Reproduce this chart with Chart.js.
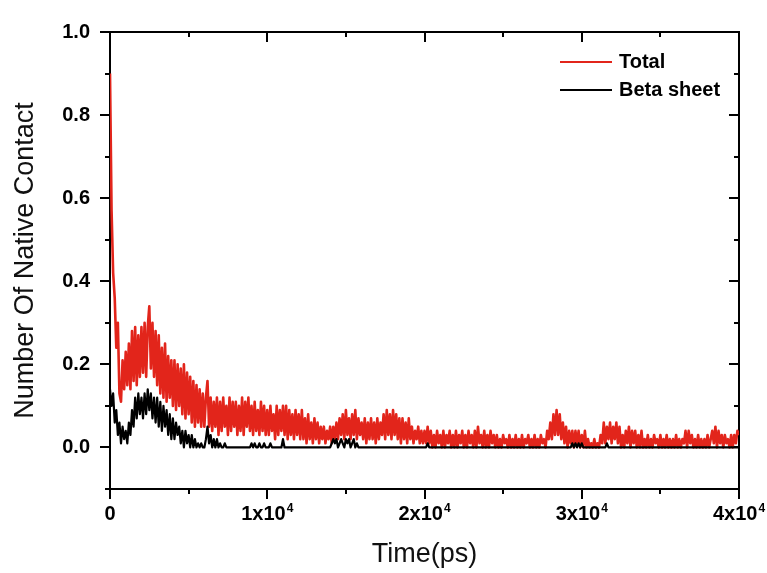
<!DOCTYPE html>
<html>
<head>
<meta charset="utf-8">
<script src="https://cdn.jsdelivr.net/npm/chart.js@4"></script>
<style>
  html, body { margin: 0; padding: 0; background: #fff; }
  canvas { display: block; }
</style>
</head>
<body>
<canvas id="contactChart" width="767" height="573"></canvas>
<script>
// sample spacing of the trajectory (ps)
const STEP = 100;

// Total native contacts, one value per 100 ps
const totalValues = [
  0.90, 0.57, 0.42, 0.36, 0.24, 0.30, 0.13, 0.11, 0.21, 0.14, 0.23, 0.15, 0.25, 0.14, 0.28, 0.16, 0.29, 0.15, 0.27, 0.17, // 0-1900
  0.29, 0.18, 0.30, 0.17, 0.29, 0.34, 0.19, 0.30, 0.17, 0.28, 0.15, 0.27, 0.13, 0.24, 0.12, 0.25, 0.11, 0.22, 0.12, 0.21, // 2000-3900
  0.10, 0.21, 0.09, 0.20, 0.10, 0.19, 0.08, 0.20, 0.07, 0.18, 0.08, 0.17, 0.06, 0.16, 0.05, 0.15, 0.06, 0.14, 0.05, 0.13, // 4000
  0.05, 0.12, 0.16, 0.05, 0.12, 0.04, 0.11, 0.05, 0.12, 0.03, 0.11, 0.04, 0.12, 0.05, 0.10, 0.03, 0.12, 0.04, 0.11, 0.05, // 6000
  0.11, 0.03, 0.10, 0.04, 0.12, 0.03, 0.11, 0.05, 0.12, 0.04, 0.10, 0.03, 0.11, 0.04, 0.09, 0.03, 0.11, 0.04, 0.10, 0.03, // 8000
  0.09, 0.03, 0.10, 0.04, 0.08, 0.02, 0.10, 0.03, 0.09, 0.04, 0.10, 0.03, 0.10, 0.02, 0.09, 0.03, 0.08, 0.02, 0.09, 0.03, // 10000
  0.08, 0.02, 0.09, 0.02, 0.07, 0.01, 0.08, 0.02, 0.06, 0.01, 0.07, 0.02, 0.06, 0.01, 0.05, 0.02, 0.05, 0.01, 0.04, 0.02, // 12000
  0.05, 0.01, 0.05, 0.02, 0.06, 0.02, 0.07, 0.03, 0.08, 0.02, 0.09, 0.03, 0.07, 0.02, 0.08, 0.03, 0.09, 0.02, 0.07, 0.03, // 14000
  0.06, 0.02, 0.07, 0.01, 0.06, 0.02, 0.07, 0.02, 0.06, 0.01, 0.07, 0.02, 0.06, 0.03, 0.08, 0.02, 0.09, 0.03, 0.08, 0.02, // 16000
  0.09, 0.03, 0.08, 0.02, 0.07, 0.01, 0.07, 0.02, 0.06, 0.01, 0.07, 0.02, 0.05, 0.01, 0.04, 0.02, 0.05, 0.01, 0.04, 0.01, // 18000
  0.04, 0.01, 0.05, 0.01, 0.04, 0.00, 0.03, 0.00, 0.04, 0.01, 0.03, 0.00, 0.04, 0.00, 0.03, 0.01, 0.04, 0.00, 0.03, 0.00, // 20000
  0.04, 0.00, 0.03, 0.01, 0.04, 0.00, 0.03, 0.00, 0.04, 0.01, 0.03, 0.00, 0.04, 0.00, 0.05, 0.01, 0.03, 0.00, 0.04, 0.00, // 22000
  0.03, 0.00, 0.04, 0.01, 0.03, 0.00, 0.03, 0.00, 0.02, 0.00, 0.03, 0.01, 0.02, 0.00, 0.03, 0.00, 0.02, 0.00, 0.03, 0.00, // 24000
  0.02, 0.00, 0.03, 0.00, 0.02, 0.01, 0.03, 0.00, 0.02, 0.00, 0.03, 0.00, 0.02, 0.00, 0.03, 0.01, 0.02, 0.00, 0.04, 0.02, // 26000
  0.06, 0.02, 0.08, 0.03, 0.09, 0.03, 0.08, 0.02, 0.06, 0.01, 0.05, 0.00, 0.04, 0.01, 0.04, 0.00, 0.04, 0.01, 0.04, 0.00, // 28000
  0.03, 0.00, 0.04, 0.00, 0.02, 0.00, 0.01, 0.00, 0.02, 0.00, 0.01, 0.00, 0.03, 0.01, 0.06, 0.01, 0.05, 0.02, 0.06, 0.01, // 30000
  0.05, 0.02, 0.06, 0.01, 0.05, 0.00, 0.03, 0.00, 0.04, 0.01, 0.05, 0.00, 0.04, 0.01, 0.04, 0.00, 0.03, 0.00, 0.04, 0.00, // 32000
  0.02, 0.00, 0.03, 0.00, 0.02, 0.00, 0.03, 0.01, 0.02, 0.00, 0.03, 0.00, 0.02, 0.00, 0.03, 0.00, 0.02, 0.00, 0.02, 0.00, // 34000
  0.03, 0.00, 0.02, 0.00, 0.02, 0.01, 0.04, 0.00, 0.04, 0.01, 0.03, 0.00, 0.02, 0.00, 0.03, 0.00, 0.02, 0.00, 0.02, 0.00, // 36000
  0.03, 0.00, 0.02, 0.04, 0.01, 0.05, 0.00, 0.04, 0.01, 0.03, 0.00, 0.03, 0.01, 0.02, 0.00, 0.03, 0.00, 0.03, 0.01, 0.04, // 38000
  0.03                                                                                                                   // 40000
];

// Beta sheet native contacts, same sampling
const betaValues = [
  0.14, 0.10, 0.13, 0.06, 0.09, 0.03, 0.06, 0.01, 0.05, 0.02, 0.04, 0.01, 0.06, 0.03, 0.09, 0.05, 0.12, 0.07, 0.13, 0.08, // 0-1900
  0.12, 0.07, 0.13, 0.08, 0.14, 0.09, 0.13, 0.07, 0.12, 0.06, 0.12, 0.05, 0.11, 0.04, 0.10, 0.05, 0.09, 0.03, 0.08, 0.02, // 2000
  0.07, 0.02, 0.06, 0.03, 0.05, 0.01, 0.04, 0.00, 0.04, 0.01, 0.03, 0.00, 0.03, 0.00, 0.02, 0.00, 0.01, 0.00, 0.01, 0.00, // 4000
  0.00, 0.02, 0.05, 0.01, 0.03, 0.00, 0.02, 0.00, 0.02, 0.00, 0.01, 0.00, 0.00, 0.01, 0.00, 0.00, 0.00, 0.00, 0.00, 0.00, // 6000
  0.00, 0.00, 0.00, 0.00, 0.00, 0.00, 0.00, 0.00, 0.00, 0.00, 0.01, 0.00, 0.01, 0.00, 0.00, 0.01, 0.00, 0.00, 0.01, 0.00, // 8000
  0.00, 0.00, 0.01, 0.00, 0.00, 0.00, 0.00, 0.00, 0.00, 0.00, 0.02, 0.00, 0.00, 0.00, 0.00, 0.00, 0.00, 0.00, 0.00, 0.00, // 10000
  0.00, 0.00, 0.00, 0.00, 0.00, 0.00, 0.00, 0.00, 0.00, 0.00, 0.00, 0.00, 0.00, 0.00, 0.00, 0.00, 0.00, 0.00, 0.00, 0.00, // 12000
  0.00, 0.01, 0.02, 0.01, 0.02, 0.00, 0.01, 0.02, 0.01, 0.00, 0.02, 0.01, 0.02, 0.00, 0.01, 0.02, 0.00, 0.01, 0.00, 0.00, // 14000
  0.00, 0.00, 0.00, 0.00, 0.00, 0.00, 0.00, 0.00, 0.00, 0.00, 0.00, 0.00, 0.00, 0.00, 0.00, 0.00, 0.00, 0.00, 0.00, 0.00, // 16000
  0.00, 0.00, 0.00, 0.00, 0.00, 0.00, 0.00, 0.00, 0.00, 0.00, 0.00, 0.00, 0.00, 0.00, 0.00, 0.00, 0.00, 0.00, 0.00, 0.00, // 18000
  0.00, 0.00, 0.01, 0.00, 0.00, 0.00, 0.00, 0.00, 0.00, 0.00, 0.00, 0.00, 0.00, 0.00, 0.00, 0.00, 0.00, 0.00, 0.00, 0.00, // 20000
  0.00, 0.00, 0.00, 0.00, 0.00, 0.00, 0.00, 0.00, 0.00, 0.00, 0.00, 0.00, 0.00, 0.00, 0.00, 0.00, 0.00, 0.00, 0.00, 0.00, // 22000
  0.00, 0.00, 0.00, 0.00, 0.00, 0.00, 0.00, 0.00, 0.00, 0.00, 0.00, 0.00, 0.00, 0.00, 0.00, 0.00, 0.00, 0.00, 0.00, 0.00, // 24000
  0.00, 0.00, 0.00, 0.00, 0.00, 0.00, 0.00, 0.00, 0.00, 0.00, 0.00, 0.00, 0.00, 0.00, 0.00, 0.00, 0.00, 0.00, 0.00, 0.00, // 26000
  0.00, 0.00, 0.00, 0.00, 0.00, 0.00, 0.00, 0.00, 0.00, 0.00, 0.00, 0.00, 0.00, 0.00, 0.01, 0.00, 0.01, 0.00, 0.01, 0.00, // 28000
  0.01, 0.00, 0.00, 0.00, 0.00, 0.00, 0.00, 0.00, 0.00, 0.00, 0.00, 0.00, 0.00, 0.00, 0.00, 0.00, 0.01, 0.00, 0.00, 0.00, // 30000
  0.00, 0.00, 0.00, 0.00, 0.00, 0.00, 0.00, 0.00, 0.00, 0.00, 0.00, 0.00, 0.00, 0.00, 0.00, 0.00, 0.00, 0.00, 0.00, 0.00, // 32000
  0.00, 0.00, 0.00, 0.00, 0.00, 0.00, 0.00, 0.00, 0.00, 0.00, 0.00, 0.00, 0.00, 0.00, 0.00, 0.00, 0.00, 0.00, 0.00, 0.00, // 34000
  0.00, 0.00, 0.00, 0.00, 0.00, 0.00, 0.00, 0.00, 0.00, 0.00, 0.00, 0.00, 0.00, 0.00, 0.00, 0.00, 0.00, 0.00, 0.00, 0.00, // 36000
  0.00, 0.00, 0.00, 0.00, 0.00, 0.00, 0.00, 0.00, 0.00, 0.00, 0.00, 0.00, 0.00, 0.00, 0.00, 0.00, 0.00, 0.00, 0.00, 0.00, // 38000
  0.00                                                                                                                   // 40000
];

const seriesNames = ['Total', 'Beta sheet'];
const seriesColors = ['#e2251b', '#000000'];

// axis ranges / tick steps
const xRange = [0, 40000];
const yRange = [-0.1, 1.0];
const xTickStep = 5000;
const yTickStep = 0.1;

const times = totalValues.map((_, i) => i * STEP);
const toPoints = vals => vals.map((v, i) => ({ x: times[i], y: v }));

const TICK_FONT = 'bold 20px "Liberation Sans", Arial, sans-serif';
const SUP_FONT = 'bold 12px "Liberation Sans", Arial, sans-serif';

// box frame + in/out tick marks, drawn under the data like Origin does
const framePlugin = {
  id: 'frame',
  beforeDatasetsDraw(chart) {
    const { ctx, chartArea: a, scales: { x, y } } = chart;
    ctx.save();
    ctx.strokeStyle = '#000';
    ctx.lineWidth = 2;
    ctx.strokeRect(a.left, a.top, a.right - a.left, a.bottom - a.top);

    ctx.beginPath();
    y.ticks.forEach(t => {
      const py = Math.round(y.getPixelForValue(t.value));
      const major = Math.round(t.value * 10) % 2 === 0;
      const len = major ? 10 : 5;
      ctx.moveTo(a.left - len, py); ctx.lineTo(a.left, py);
      ctx.moveTo(a.right - len, py); ctx.lineTo(a.right, py);
    });
    x.ticks.forEach(t => {
      const px = Math.round(x.getPixelForValue(t.value));
      const major = t.value % 10000 === 0;
      const len = major ? 10 : 5;
      ctx.moveTo(px, a.bottom); ctx.lineTo(px, a.bottom + len);
      ctx.moveTo(px, a.top); ctx.lineTo(px, a.top + len);
    });
    ctx.stroke();

    // x tick labels, "Nx10" with superscript 4
    ctx.fillStyle = '#000';
    ctx.textBaseline = 'alphabetic';
    x.ticks.forEach(t => {
      if (t.value % 10000 !== 0) return;
      const px = x.getPixelForValue(t.value);
      const base = a.bottom + 31;
      if (t.value === 0) {
        ctx.font = TICK_FONT; ctx.textAlign = 'center';
        ctx.fillText('0', px, base);
        return;
      }
      const main = (t.value / 10000) + 'x10';
      ctx.font = TICK_FONT;
      const w1 = ctx.measureText(main).width;
      ctx.font = SUP_FONT;
      const w2 = ctx.measureText('4').width;
      const start = px - (w1 + w2 + 1) / 2;
      ctx.textAlign = 'left';
      ctx.font = TICK_FONT;
      ctx.fillText(main, start, base);
      ctx.font = SUP_FONT;
      ctx.fillText('4', start + w1 + 1, base - 8);
    });
    ctx.restore();
  }
};

// legend drawn inside the plot, top right
const insideLegend = {
  id: 'insideLegend',
  afterDraw(chart) {
    const ctx = chart.ctx;
    ctx.save();
    ctx.font = 'bold 20px "Liberation Sans", Arial, sans-serif';
    ctx.textBaseline = 'middle';
    ctx.textAlign = 'left';
    chart.data.datasets.forEach((ds, i) => {
      const yy = 62 + i * 28;
      ctx.strokeStyle = ds.borderColor;
      ctx.lineWidth = 2;
      ctx.beginPath();
      ctx.moveTo(560, yy); ctx.lineTo(612, yy);
      ctx.stroke();
      ctx.fillStyle = '#000';
      ctx.fillText(ds.label, 619, yy);
    });
    ctx.restore();
  }
};

const ctx = document.getElementById('contactChart').getContext('2d');
new Chart(ctx, {
  type: 'line',
  data: {
    datasets: [
      { label: seriesNames[0], data: toPoints(totalValues), borderColor: seriesColors[0], borderWidth: 2.6, order: 1 },
      { label: seriesNames[1], data: toPoints(betaValues), borderColor: seriesColors[1], borderWidth: 2.2, order: 0 }
    ]
  },
  options: {
    responsive: false,
    animation: false,
    normalized: true,
    layout: { padding: { left: 0, top: 26, right: 28, bottom: 0 } },
    elements: { point: { radius: 0 }, line: { tension: 0, borderJoinStyle: 'round' } },
    plugins: { legend: { display: false }, tooltip: { enabled: false } },
    scales: {
      x: {
        type: 'linear',
        min: xRange[0], max: xRange[1],
        grid: { display: false },
        border: { display: false },
        ticks: { display: false, stepSize: xTickStep },
        title: {
          display: true, text: 'Time(ps)', color: '#111',
          font: { family: '"Liberation Sans", Arial, sans-serif', size: 27 },
          padding: { top: 0, bottom: 2 }
        },
        afterFit: s => { s.height = 84; }
      },
      y: {
        min: yRange[0], max: yRange[1],
        grid: { display: false, drawTicks: false },
        border: { display: false },
        ticks: {
          stepSize: yTickStep, padding: 20, color: '#000',
          font: { family: '"Liberation Sans", Arial, sans-serif', size: 20, weight: 'bold' },
          callback: v => Math.round(v * 10) % 2 === 0 ? v.toFixed(1) : ''
        },
        title: {
          display: true, text: 'Number Of Native Contact', color: '#111',
          font: { family: '"Liberation Sans", Arial, sans-serif', size: 27 },
          padding: { top: 9, bottom: 0 }
        },
        afterFit: s => { s.width = 110; }
      }
    }
  },
  plugins: [framePlugin, insideLegend]
});
</script>
</body>
</html>
